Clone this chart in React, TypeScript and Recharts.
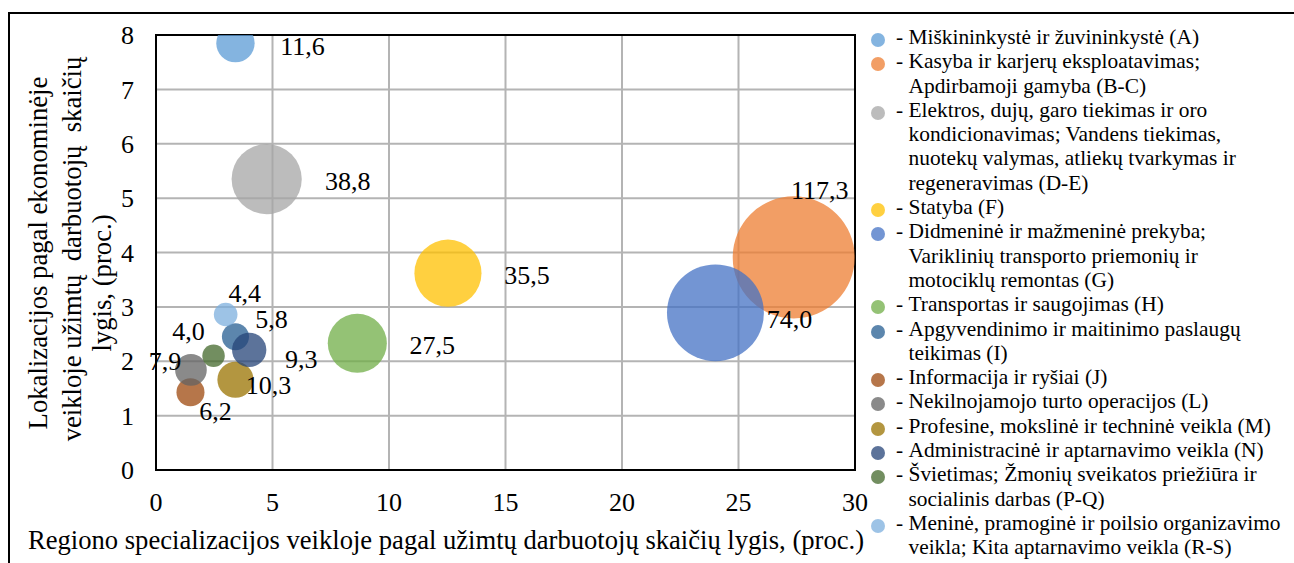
import React from 'react';
import {
  ScatterChart,
  Scatter,
  XAxis,
  YAxis,
  ZAxis,
  CartesianGrid,
  ReferenceArea,
  Legend,
} from 'recharts';

const sectors = [
  'Miškininkystė ir žuvininkystė (A)',
  'Kasyba ir karjerų eksploatavimas;\nApdirbamoji gamyba (B-C)',
  'Elektros, dujų, garo tiekimas ir oro\nkondicionavimas; Vandens tiekimas,\nnuotekų valymas, atliekų tvarkymas ir\nregeneravimas (D-E)',
  'Statyba (F)',
  'Didmeninė ir mažmeninė prekyba;\nVariklinių transporto priemonių ir\nmotociklų remontas (G)',
  'Transportas ir saugojimas (H)',
  'Apgyvendinimo ir maitinimo paslaugų\nteikimas (I)',
  'Informacija ir ryšiai (J)',
  'Nekilnojamojo turto operacijos (L)',
  'Profesine, mokslinė ir techninė veikla (M)',
  'Administracinė ir aptarnavimo veikla (N)',
  'Švietimas; Žmonių sveikatos priežiūra ir\nsocialinis darbas (P-Q)',
  'Meninė, pramoginė ir poilsio organizavimo\nveikla; Kita aptarnavimo veikla (R-S)',
];
const specialization = [3.41, 27.37, 4.75, 12.53, 24.01, 8.64, 3.41, 1.48, 1.5, 3.41, 4.0, 2.47, 2.99];
const localization = [7.85, 3.91, 5.35, 3.62, 2.89, 2.33, 2.45, 1.43, 1.84, 1.66, 2.21, 2.1, 2.86];
const employees = [11.6, 117.3, 38.8, 35.5, 74.0, 27.5, 5.8, 6.2, 7.9, 10.3, 9.3, 4.0, 4.4];
const xTicks = [0, 5, 10, 15, 20, 25, 30];
const yTicks = [0, 1, 2, 3, 4, 5, 6, 7, 8];

const colors = [
  '#5B9BD5', '#ED7D31', '#A5A5A5', '#FFC000', '#4472C4', '#70AD47',
  '#255E91', '#9E480E', '#636363', '#997300', '#264478', '#43682B', '#7CAFDD',
];
// label centre offset from bubble centre, px
const labelOffsets = [
  [67, 3], [26, -67], [81, 2], [79, 2], [74, 7], [75, 2], [36, -17],
  [25, 19], [-26, -8], [33, 6], [52, 10], [-25, -24], [19, -21],
];

const FONT = '"Liberation Serif", "Times New Roman", serif';
const fmt = (v: number) => v.toFixed(1).replace('.', ',');

const points = sectors.map((_, i) => ({
  x: specialization[i],
  y: localization[i],
  z: employees[i],
  i,
}));

const BubbleLabel = (props: any) => {
  const { cx, cy, payload } = props;
  const [dx, dy] = labelOffsets[payload.i];
  return (
    <text
      x={cx + dx}
      y={cy + dy}
      textAnchor="middle"
      dominantBaseline="central"
      fontSize={26}
      fontFamily={FONT}
      fill="#000"
    >
      {fmt(payload.z)}
    </text>
  );
};

function SectorLegend() {
  return (
    <div style={{ fontFamily: FONT, fontSize: 21.4, lineHeight: '24.3px', color: '#000' }}>
      {sectors.map((name, i) => (
        <div key={i} style={{ display: 'flex', alignItems: 'flex-start' }}>
          <span
            style={{
              width: 14,
              height: 14,
              borderRadius: '50%',
              background: colors[i],
              opacity: 0.75,
              marginTop: 8,
              marginRight: 11,
              flex: 'none',
            }}
          />
          <span style={{ whiteSpace: 'pre' }}>- </span>
          <div>
            {name.split('\n').map((line, j) => (
              <div key={j} style={{ whiteSpace: 'nowrap' }}>
                {line}
              </div>
            ))}
          </div>
        </div>
      ))}
    </div>
  );
}

const yTitle = [
  { text: 'Lokalizacijos pagal ekonominėje', x: 38, y: 253 },
  { text: 'veikloje užimtų  darbuotojų  skaičių', x: 72, y: 249 },
  { text: 'lygis, (proc.)', x: 102, y: 283 },
];

export default function App() {
  return (
    <div
      style={{
        position: 'absolute',
        left: 0,
        top: 0,
        width: 1294,
        height: 563,
        background: '#fff',
        overflow: 'hidden',
        fontFamily: FONT,
      }}
    >
      <div
        style={{
          position: 'absolute',
          left: 8,
          top: 12,
          width: 1400,
          height: 700,
          borderLeft: '2px solid #000',
          borderTop: '2px solid #000',
        }}
      />
      <ScatterChart
        width={1294}
        height={563}
        margin={{ top: 35, right: 439, bottom: 0, left: 56 }}
        style={{ fontFamily: FONT }}
      >
        <CartesianGrid stroke="#b4b4b4" strokeWidth={2} />
        <XAxis
          type="number"
          dataKey="x"
          domain={[0, 30]}
          ticks={xTicks}
          allowDataOverflow
          axisLine={false}
          tickLine={false}
          tickSize={0}
          tickMargin={23}
          height={93}
          tick={{ fill: '#000', fontSize: 26, fontFamily: FONT }}
        />
        <YAxis
          type="number"
          dataKey="y"
          domain={[0, 8]}
          ticks={yTicks}
          allowDataOverflow
          axisLine={false}
          tickLine={false}
          tickSize={0}
          tickMargin={22}
          width={100}
          tick={{ fill: '#000', fontSize: 26, fontFamily: FONT }}
        />
        <XAxis xAxisId="lbl" type="number" dataKey="x" domain={[0, 30]} hide />
        <YAxis yAxisId="lbl" type="number" dataKey="y" domain={[0, 8]} hide />
        <ZAxis type="number" dataKey="z" domain={[0, 117.3]} range={[0, 11690]} />
        {points.map((p) => (
          <Scatter
            key={p.i}
            name={sectors[p.i]}
            data={[p]}
            fill={colors[p.i]}
            fillOpacity={0.75}
            isAnimationActive={false}
          />
        ))}
        <ReferenceArea
          x1={0}
          x2={30}
          y1={0}
          y2={8}
          fill="none"
          stroke="#000"
          strokeWidth={2}
          ifOverflow="visible"
        />
        <Scatter
          xAxisId="lbl"
          yAxisId="lbl"
          data={points}
          shape={BubbleLabel}
          legendType="none"
          isAnimationActive={false}
        />
        <Legend
          layout="vertical"
          align="center"
          verticalAlign="middle"
          content={() => <SectorLegend />}
          wrapperStyle={{ left: 871, top: 25, width: 423, height: 540 }}
        />
      </ScatterChart>
      {yTitle.map((t) => (
        <div
          key={t.text}
          style={{
            position: 'absolute',
            left: t.x,
            top: t.y,
            transform: 'translate(-50%, -50%) rotate(-90deg)',
            whiteSpace: 'pre',
            fontSize: 26.7,
            lineHeight: 1,
            color: '#000',
          }}
        >
          {t.text}
        </div>
      ))}
      <div
        style={{
          position: 'absolute',
          left: 446,
          top: 540,
          transform: 'translate(-50%, -50%)',
          whiteSpace: 'nowrap',
          fontSize: 26.6,
          lineHeight: 1,
          color: '#000',
        }}
      >
        Regiono specializacijos veikloje pagal užimtų darbuotojų skaičių lygis, (proc.)
      </div>
    </div>
  );
}
